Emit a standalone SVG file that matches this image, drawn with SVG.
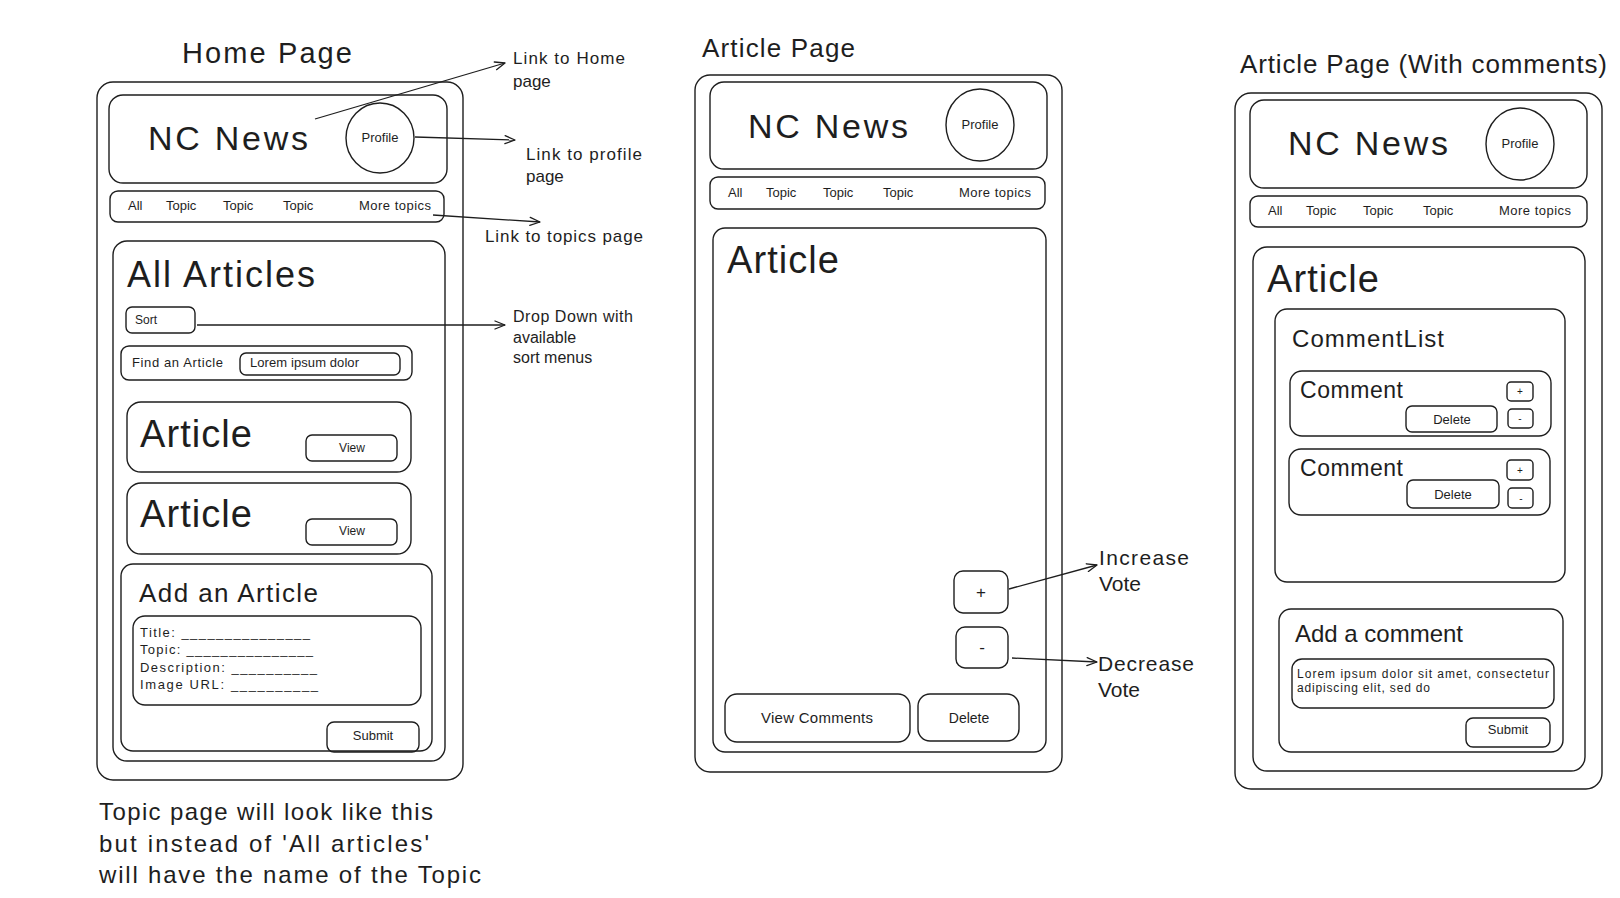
<svg xmlns="http://www.w3.org/2000/svg" width="1620" height="898" viewBox="0 0 1620 898">
  <style>
    .box { fill: none; stroke: #1e1e1e; stroke-width: 1.4; }
    .t { font-family: "Liberation Sans", "DejaVu Sans", sans-serif; fill: #1e1e1e; }
    .mid { text-anchor: middle; }
    .link { fill: none; stroke: #1e1e1e; stroke-width: 1.3; marker-end: url(#arrow); }
  </style>
  <defs>
    <marker id="arrow" viewBox="0 0 12 10" refX="11" refY="5" markerWidth="12" markerHeight="10" markerUnits="userSpaceOnUse" orient="auto">
      <path d="M1,1 L11,5 L1,9" fill="none" stroke="#1e1e1e" stroke-width="1.3" stroke-linecap="round" stroke-linejoin="round"/>
    </marker>
  </defs>
  <rect width="1620" height="898" fill="#ffffff"/>

  <!-- Home page wireframe -->
  <g id="home-page">
    <text class="t" x="182" y="63" font-size="29" textLength="170" lengthAdjust="spacing">Home Page</text>
    <rect class="box" x="97" y="82" width="366" height="698" rx="16"/>
    <g id="home-header">
      <rect class="box" x="109" y="95" width="338" height="88" rx="14"/>
      <text class="t" x="148" y="150" font-size="34" textLength="160" lengthAdjust="spacing">NC News</text>
      <ellipse class="box" cx="380" cy="138" rx="34" ry="35"/>
      <text class="t mid" x="380" y="142" font-size="13">Profile</text>
    </g>
    <g id="home-nav">
      <rect class="box" x="110" y="191" width="334" height="31" rx="8"/>
      <text class="t" x="128" y="210" font-size="13">All</text>
      <text class="t" x="166" y="210" font-size="13">Topic</text>
      <text class="t" x="223" y="210" font-size="13">Topic</text>
      <text class="t" x="283" y="210" font-size="13">Topic</text>
      <text class="t" x="359" y="210" font-size="13" textLength="72" lengthAdjust="spacing">More topics</text>
    </g>
    <g id="home-articles">
      <rect class="box" x="113" y="241" width="332" height="520" rx="14"/>
      <text class="t" x="127" y="287" font-size="36" textLength="188" lengthAdjust="spacing">All Articles</text>
      <rect class="box" x="126" y="307" width="69" height="26" rx="6"/>
      <text class="t" x="135" y="324" font-size="12">Sort</text>
      <rect class="box" x="121" y="346" width="291" height="34" rx="8"/>
      <text class="t" x="132" y="367" font-size="13" textLength="91" lengthAdjust="spacing">Find an Article</text>
      <rect class="box" x="240" y="353" width="160" height="22" rx="6"/>
      <text class="t" x="250" y="367" font-size="13" textLength="109" lengthAdjust="spacing">Lorem ipsum dolor</text>
    </g>
    <g id="home-article-1">
      <rect class="box" x="127" y="402" width="284" height="70" rx="14"/>
      <text class="t" x="140" y="447" font-size="38" textLength="112" lengthAdjust="spacing">Article</text>
      <rect class="box" x="306" y="435" width="91" height="26" rx="6"/>
      <text class="t mid" x="352" y="452" font-size="12">View</text>
    </g>
    <g id="home-article-2">
      <rect class="box" x="127" y="483" width="284" height="71" rx="14"/>
      <text class="t" x="140" y="527" font-size="38" textLength="112" lengthAdjust="spacing">Article</text>
      <rect class="box" x="306" y="519" width="91" height="26" rx="6"/>
      <text class="t mid" x="352" y="535" font-size="12">View</text>
    </g>
    <g id="home-add-article">
      <rect class="box" x="121" y="564" width="311" height="187" rx="12"/>
      <text class="t" x="139" y="602" font-size="26" textLength="179" lengthAdjust="spacing">Add an Article</text>
      <rect class="box" x="133" y="616" width="288" height="89" rx="12"/>
      <text class="t" x="140" y="637" font-size="13" textLength="170" lengthAdjust="spacing">Title: _______________</text>
      <text class="t" x="140" y="654" font-size="13" textLength="173" lengthAdjust="spacing">Topic: _______________</text>
      <text class="t" x="140" y="672" font-size="13" textLength="177" lengthAdjust="spacing">Description: __________</text>
      <text class="t" x="140" y="689" font-size="13" textLength="178" lengthAdjust="spacing">Image URL: __________</text>
      <rect class="box" x="327" y="722" width="92" height="30" rx="7"/>
      <text class="t mid" x="373" y="740" font-size="13">Submit</text>
    </g>
  </g>

  <!-- Notes beside the home page -->
  <g id="note-home-link">
    <text class="t" x="513" y="64" font-size="17" textLength="112" lengthAdjust="spacing">Link to Home</text>
    <text class="t" x="513" y="87" font-size="17">page</text>
  </g>
  <g id="note-profile-link">
    <text class="t" x="526" y="160" font-size="17" textLength="116" lengthAdjust="spacing">Link to profile</text>
    <text class="t" x="526" y="182" font-size="17">page</text>
  </g>
  <g id="note-topics-link">
    <text class="t" x="485" y="242" font-size="17" textLength="158" lengthAdjust="spacing">Link to topics page</text>
  </g>
  <g id="note-sort">
    <text class="t" x="513" y="322" font-size="16" textLength="120" lengthAdjust="spacing">Drop Down with</text>
    <text class="t" x="513" y="343" font-size="16">available</text>
    <text class="t" x="513" y="363" font-size="16">sort menus</text>
  </g>
  <g id="note-topic-page">
    <text class="t" x="99" y="820" font-size="24" textLength="334" lengthAdjust="spacing">Topic page will look like this</text>
    <text class="t" x="99" y="852" font-size="24" textLength="330" lengthAdjust="spacing">but instead of 'All articles'</text>
    <text class="t" x="99" y="883" font-size="24" textLength="382" lengthAdjust="spacing">will have the name of the Topic</text>
  </g>

  <!-- Article page wireframe -->
  <g id="article-page">
    <text class="t" x="702" y="57" font-size="26" textLength="153" lengthAdjust="spacing">Article Page</text>
    <rect class="box" x="695" y="75" width="367" height="697" rx="15"/>
    <g id="article-header">
      <rect class="box" x="710" y="82" width="337" height="87" rx="14"/>
      <text class="t" x="748" y="138" font-size="34" textLength="160" lengthAdjust="spacing">NC News</text>
      <ellipse class="box" cx="980" cy="125" rx="34" ry="36"/>
      <text class="t mid" x="980" y="129" font-size="13">Profile</text>
    </g>
    <g id="article-nav">
      <rect class="box" x="710" y="177" width="335" height="32" rx="8"/>
      <text class="t" x="728" y="197" font-size="13">All</text>
      <text class="t" x="766" y="197" font-size="13">Topic</text>
      <text class="t" x="823" y="197" font-size="13">Topic</text>
      <text class="t" x="883" y="197" font-size="13">Topic</text>
      <text class="t" x="959" y="197" font-size="13" textLength="72" lengthAdjust="spacing">More topics</text>
    </g>
    <g id="article-body">
      <rect class="box" x="713" y="228" width="333" height="524" rx="12"/>
      <text class="t" x="727" y="273" font-size="38" textLength="112" lengthAdjust="spacing">Article</text>
    </g>
    <g id="article-upvote">
      <rect class="box" x="954" y="571" width="54" height="42" rx="9"/>
      <text class="t mid" x="981" y="598" font-size="17">+</text>
    </g>
    <g id="article-downvote">
      <rect class="box" x="956" y="627" width="52" height="41" rx="9"/>
      <text class="t mid" x="982" y="653" font-size="17">-</text>
    </g>
    <g id="article-view-comments">
      <rect class="box" x="725" y="694" width="185" height="48" rx="12"/>
      <text class="t mid" x="817" y="723" font-size="15" textLength="112" lengthAdjust="spacing">View Comments</text>
    </g>
    <g id="article-delete">
      <rect class="box" x="918" y="694" width="101" height="47" rx="12"/>
      <text class="t mid" x="969" y="723" font-size="14">Delete</text>
    </g>
  </g>

  <!-- Notes beside the article page -->
  <g id="note-increase">
    <text class="t" x="1099" y="565" font-size="21" textLength="90" lengthAdjust="spacing">Increase</text>
    <text class="t" x="1099" y="591" font-size="21">Vote</text>
  </g>
  <g id="note-decrease">
    <text class="t" x="1098" y="671" font-size="21" textLength="96" lengthAdjust="spacing">Decrease</text>
    <text class="t" x="1098" y="697" font-size="21">Vote</text>
  </g>

  <!-- Article page with comments wireframe -->
  <g id="comments-page">
    <text class="t" x="1240" y="73" font-size="26" textLength="367" lengthAdjust="spacing">Article Page (With comments)</text>
    <rect class="box" x="1235" y="93" width="367" height="696" rx="16"/>
    <g id="comments-header">
      <rect class="box" x="1250" y="100" width="337" height="88" rx="14"/>
      <text class="t" x="1288" y="155" font-size="34" textLength="160" lengthAdjust="spacing">NC News</text>
      <ellipse class="box" cx="1520" cy="144" rx="34" ry="36"/>
      <text class="t mid" x="1520" y="148" font-size="13">Profile</text>
    </g>
    <g id="comments-nav">
      <rect class="box" x="1250" y="196" width="337" height="31" rx="8"/>
      <text class="t" x="1268" y="215" font-size="13">All</text>
      <text class="t" x="1306" y="215" font-size="13">Topic</text>
      <text class="t" x="1363" y="215" font-size="13">Topic</text>
      <text class="t" x="1423" y="215" font-size="13">Topic</text>
      <text class="t" x="1499" y="215" font-size="13" textLength="72" lengthAdjust="spacing">More topics</text>
    </g>
    <g id="comments-article">
      <rect class="box" x="1253" y="247" width="332" height="524" rx="14"/>
      <text class="t" x="1267" y="292" font-size="38" textLength="112" lengthAdjust="spacing">Article</text>
    </g>
    <g id="comment-list">
      <rect class="box" x="1275" y="309" width="290" height="273" rx="12"/>
      <text class="t" x="1292" y="347" font-size="24" textLength="152" lengthAdjust="spacing">CommentList</text>
    </g>
    <g id="comment-1">
      <rect class="box" x="1290" y="371" width="261" height="65" rx="12"/>
      <text class="t" x="1300" y="398" font-size="23" textLength="103" lengthAdjust="spacing">Comment</text>
      <rect class="box" x="1406" y="406" width="91" height="26" rx="6"/>
      <text class="t mid" x="1452" y="424" font-size="13">Delete</text>
      <rect class="box" x="1507" y="382" width="26" height="19" rx="4"/>
      <text class="t mid" x="1520" y="395" font-size="10">+</text>
      <rect class="box" x="1508" y="409" width="25" height="19" rx="4"/>
      <text class="t mid" x="1520" y="422" font-size="10">-</text>
    </g>
    <g id="comment-2">
      <rect class="box" x="1289" y="449" width="261" height="66" rx="12"/>
      <text class="t" x="1300" y="476" font-size="23" textLength="103" lengthAdjust="spacing">Comment</text>
      <rect class="box" x="1407" y="480" width="92" height="28" rx="6"/>
      <text class="t mid" x="1453" y="499" font-size="13">Delete</text>
      <rect class="box" x="1507" y="460" width="26" height="20" rx="4"/>
      <text class="t mid" x="1520" y="474" font-size="10">+</text>
      <rect class="box" x="1508" y="488" width="25" height="20" rx="4"/>
      <text class="t mid" x="1521" y="502" font-size="10">-</text>
    </g>
    <g id="add-comment">
      <rect class="box" x="1279" y="609" width="284" height="143" rx="12"/>
      <text class="t" x="1295" y="642" font-size="24" textLength="168" lengthAdjust="spacing">Add a comment</text>
      <rect class="box" x="1292" y="659" width="262" height="49" rx="10"/>
      <text class="t" x="1297" y="678" font-size="12" textLength="252" lengthAdjust="spacing">Lorem ipsum dolor sit amet, consectetur</text>
      <text class="t" x="1297" y="692" font-size="12" textLength="133" lengthAdjust="spacing">adipiscing elit, sed do</text>
      <rect class="box" x="1466" y="718" width="84" height="29" rx="7"/>
      <text class="t mid" x="1508" y="734" font-size="13">Submit</text>
    </g>
  </g>

  <!-- Annotation arrows -->
  <g id="connectors">
    <path class="link" d="M315,119 L505,63"/>
    <path class="link" d="M415,137 L515,140"/>
    <path class="link" d="M433,215 L540,222"/>
    <path class="link" d="M197,325 L505,325"/>
    <path class="link" d="M1009,589 L1097,565"/>
    <path class="link" d="M1012,658 L1097,662"/>
  </g>
</svg>
